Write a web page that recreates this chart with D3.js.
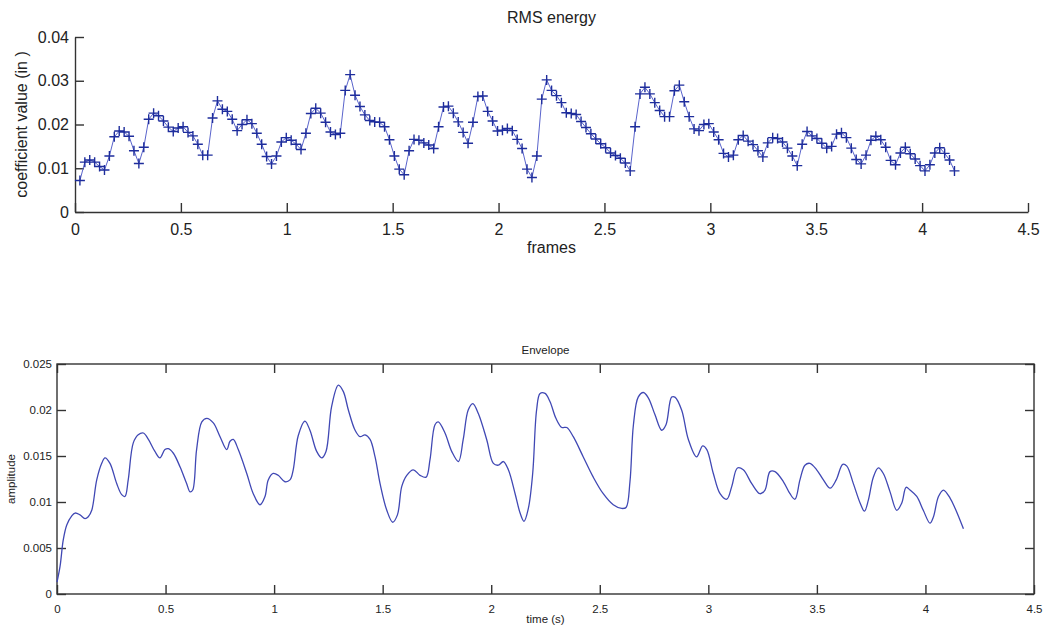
<!DOCTYPE html>
<html lang="en">
<head>
    <meta charset="UTF-8">
    <style>
        body { margin: 0; background: #fff; }
        text { font-family: "Liberation Sans", Arial, sans-serif; fill: #222; }
    </style>
</head>
<body>
    <script src="https://d3js.org/d3.v7.min.js"></script>
    <div id="here"></div>

    <script>
        // RMS energy, one value per frame (frame hop in seconds)
        const rmsHop = 0.0232;
        const rmsValues = [
            .0072,.0114,.0119,.0114,.0104,.0096,.0128,.0172,.0185,.0183,
            .0173,.0140,.0111,.0148,.0212,.0226,.0220,.0208,.0194,.0184,
            .0192,.0195,.0182,.0174,.0155,.0130,.0130,.0215,.0254,.0235,
            .0230,.0212,.0186,.0200,.0211,.0202,.0180,.0155,.0127,.0110,
            .0128,.0160,.0170,.0164,.0155,.0143,.0180,.0225,.0237,.0226,
            .0205,.0183,.0177,.0180,.0278,.0314,.0267,.0241,.0222,.0209,
            .0206,.0205,.0195,.0165,.0128,.0098,.0085,.0140,.0166,.0164,
            .0158,.0153,.0145,.0195,.0240,.0242,.0226,.0206,.0182,.0157,
            .0205,.0264,.0265,.0230,.0208,.0185,.0187,.0191,.0186,.0166,
            .0145,.0098,.0079,.0128,.0258,.0302,.0278,.0266,.0250,.0227,
            .0225,.0223,.0207,.0193,.0179,.0167,.0156,.0147,.0135,.0129,
            .0123,.0112,.0094,.0195,.0270,.0285,.0270,.0250,.0232,.0218,
            .0218,.0277,.0290,.0252,.0218,.0190,.0186,.0200,.0202,.0183,
            .0165,.0134,.0126,.0130,.0165,.0175,.0162,.0154,.0140,.0126,
            .0158,.0170,.0168,.0160,.0146,.0128,.0106,.0155,.0184,.0174,
            .0168,.0157,.0146,.0150,.0178,.0181,.0170,.0146,.0120,.0110,
            .0130,.0164,.0173,.0165,.0148,.0118,.0108,.0135,.0148,.0133,
            .0121,.0106,.0094,.0108,.0135,.0147,.0134,.0119,.0094
        ];

        // envelope
        const envTimes = [
            0,0.014,0.029,0.045,0.068,0.083,0.106,0.129,0.144,0.16,
            0.183,0.206,0.221,0.244,0.275,0.298,0.313,0.328,0.351,0.374,
            0.398,0.421,0.451,0.474,0.497,0.513,0.536,0.567,0.597,0.613,
            0.625,0.643,0.667,0.690,0.720,0.751,0.782,0.797,0.812,0.835,
            0.874,0.904,0.935,0.958,0.973,0.996,1.019,1.050,1.073,1.088,
            1.111,1.142,1.165,1.196,1.219,1.239,1.265,1.296,1.319,1.342,
            1.373,1.396,1.419,1.442,1.465,1.488,1.519,1.546,1.568,1.588,
            1.611,1.641,1.672,1.700,1.718,1.741,1.756,1.787,1.818,1.849,
            1.871,1.894,1.915,1.941,1.979,2.010,2.033,2.056,2.079,2.110,
            2.133,2.151,2.171,2.191,2.209,2.225,2.248,2.271,2.298,2.325,
            2.348,2.378,2.424,2.470,2.516,2.562,2.601,2.621,2.639,2.655,
            2.677,2.701,2.724,2.754,2.785,2.805,2.831,2.846,2.877,2.908,
            2.946,2.974,2.993,3.023,3.054,3.085,3.108,3.134,3.161,3.200,
            3.238,3.261,3.284,3.307,3.346,3.376,3.399,3.422,3.445,3.468,
            3.499,3.530,3.561,3.589,3.619,3.638,3.668,3.699,3.719,3.737,
            3.760,3.783,3.806,3.837,3.868,3.891,3.911,3.929,3.960,3.990,
            4.021,4.037,4.060,4.083,4.114,4.137,4.175
        ];
        const envValues = [
            .0013,.0030,.0059,.0075,.0085,.0088,.0086,.0082,.0084,.0091,
            .0124,.0142,.0148,.0142,.0120,.0108,.0106,.0124,.0164,.0173,
            .0175,.0168,.0155,.0148,.0157,.0158,.0153,.0138,.0120,.0111,
            .0113,.0157,.0187,.0191,.0186,.0171,.0157,.0166,.0168,.0157,
            .0131,.0109,.0097,.0106,.0124,.0131,.0129,.0122,.0124,.0135,
            .0172,.0188,.0178,.0155,.0148,.0155,.0204,.0227,.0220,.0200,
            .0178,.0171,.0173,.0168,.0149,.0120,.0091,.0078,.0086,.0117,
            .0129,.0135,.0129,.0127,.0146,.0184,.0187,.0175,.0155,.0144,
            .0168,.0200,.0207,.0196,.0168,.0142,.0140,.0144,.0135,.0109,
            .0088,.0079,.0093,.0131,.0200,.0218,.0218,.0209,.0191,.0181,
            .0181,.0171,.0149,.0127,.0109,.0097,.0093,.0094,.0122,.0184,
            .0214,.0219,.0213,.0195,.0178,.0184,.0214,.0214,.0200,.0168,
            .0149,.0161,.0157,.0131,.0109,.0103,.0117,.0137,.0135,.0120,
            .0109,.0113,.0133,.0133,.0122,.0109,.0103,.0124,.0140,.0142,
            .0135,.0124,.0115,.0124,.0141,.0139,.0120,.0099,.0090,.0102,
            .0127,.0137,.0131,.0111,.0091,.0099,.0116,.0113,.0106,.0091,
            .0077,.0084,.0106,.0113,.0104,.0093,.0071
        ];

        const xTicks = [0, 0.5, 1, 1.5, 2, 2.5, 3, 3.5, 4, 4.5];
        const rmsYTicks = [0, 0.01, 0.02, 0.03, 0.04];
        const envYTicks = [0, 0.005, 0.01, 0.015, 0.02, 0.025];

        const W = 1048, H = 629;
        const svg = d3.select("#here").append("svg")
            .attr("width", W).attr("height", H);

        const axisColor = "#333";
        const fmt = d => String(d);

        // ---------- top: RMS energy ----------
        {
            const left = 75, right = 1028, top = 37, bottom = 212;
            const x = d3.scaleLinear().domain([0, 4.5]).range([left, right]);
            const y = d3.scaleLinear().domain([0, 0.04]).range([bottom, top]);

            const g = svg.append("g");

            g.append("g")
                .attr("transform", `translate(0,${bottom})`)
                .call(d3.axisBottom(x).tickValues(xTicks).tickFormat(fmt)
                    .tickSizeInner(-9).tickSizeOuter(0).tickPadding(12))
                .call(a => {
                    a.select(".domain").attr("stroke", axisColor).attr("stroke-width", 1.4);
                    a.selectAll(".tick line").attr("stroke", axisColor).attr("stroke-width", 1.4);
                    a.selectAll("text").attr("font-size", 16).attr("fill", "#222")
                        .attr("font-family", "Liberation Sans, Arial, sans-serif");
                });

            g.append("g")
                .attr("transform", `translate(${left},0)`)
                .call(d3.axisLeft(y).tickValues(rmsYTicks).tickFormat(fmt)
                    .tickSizeInner(-9).tickSizeOuter(0).tickPadding(6))
                .call(a => {
                    a.select(".domain").attr("stroke", axisColor).attr("stroke-width", 1.4);
                    a.selectAll(".tick line").attr("stroke", axisColor).attr("stroke-width", 1.4);
                    a.selectAll("text").attr("font-size", 16).attr("fill", "#222")
                        .attr("font-family", "Liberation Sans, Arial, sans-serif");
                });

            const pts = rmsValues.map((v, i) => [(i + 1) * rmsHop, v]);

            g.append("path")
                .datum(pts)
                .attr("fill", "none")
                .attr("stroke", "#5a64cc")
                .attr("stroke-width", 1)
                .attr("d", d3.line().x(d => x(d[0])).y(d => y(d[1])));

            g.append("path")
                .attr("fill", "none")
                .attr("stroke", "#1e2d9c")
                .attr("stroke-width", 1.4)
                .attr("d", pts.map(d => {
                    const px = x(d[0]), py = y(d[1]);
                    return `M${px - 5},${py}H${px + 5}M${px},${py - 5}V${py + 5}`;
                }).join(""));

            g.append("text")
                .attr("x", (left + right) / 2).attr("y", 23)
                .attr("text-anchor", "middle").attr("font-size", 16)
                .text("RMS energy");

            g.append("text")
                .attr("x", (left + right) / 2).attr("y", 253)
                .attr("text-anchor", "middle").attr("font-size", 16)
                .text("frames");

            g.append("text")
                .attr("transform", `translate(27,${(top + bottom) / 2}) rotate(-90)`)
                .attr("text-anchor", "middle").attr("font-size", 16)
                .text("coefficient value (in )");
        }

        // ---------- bottom: Envelope ----------
        {
            const left = 57, right = 1034, top = 364, bottom = 594;
            const x = d3.scaleLinear().domain([0, 4.5]).range([left, right]);
            const y = d3.scaleLinear().domain([0, 0.025]).range([bottom, top]);

            const g = svg.append("g");

            const style = a => {
                a.select(".domain").remove();
                a.selectAll(".tick line").attr("stroke", axisColor).attr("stroke-width", 1.4);
                a.selectAll("text").attr("font-size", 11.5).attr("fill", "#222")
                    .attr("font-family", "Liberation Sans, Arial, sans-serif");
            };

            g.append("g")
                .attr("transform", `translate(0,${bottom})`)
                .call(d3.axisBottom(x).tickValues(xTicks).tickFormat(fmt)
                    .tickSizeInner(-9).tickSizeOuter(0).tickPadding(11))
                .call(style);
            g.append("g")
                .attr("transform", `translate(0,${top})`)
                .call(d3.axisTop(x).tickValues(xTicks).tickFormat("")
                    .tickSizeInner(-9).tickSizeOuter(0))
                .call(style);
            g.append("g")
                .attr("transform", `translate(${left},0)`)
                .call(d3.axisLeft(y).tickValues(envYTicks).tickFormat(fmt)
                    .tickSizeInner(-9).tickSizeOuter(0).tickPadding(5))
                .call(style);
            g.append("g")
                .attr("transform", `translate(${right},0)`)
                .call(d3.axisRight(y).tickValues(envYTicks).tickFormat("")
                    .tickSizeInner(-9).tickSizeOuter(0))
                .call(style);

            g.append("rect")
                .attr("x", left).attr("y", top)
                .attr("width", right - left).attr("height", bottom - top)
                .attr("fill", "none").attr("stroke", axisColor).attr("stroke-width", 1.4);

            const pts = envTimes.map((t, i) => [t, envValues[i]]);
            g.append("path")
                .datum(pts)
                .attr("fill", "none")
                .attr("stroke", "#4048b4")
                .attr("stroke-width", 1.3)
                .attr("d", d3.line().curve(d3.curveCatmullRom)
                    .x(d => x(d[0])).y(d => y(d[1])));

            g.append("text")
                .attr("x", (left + right) / 2).attr("y", 354)
                .attr("text-anchor", "middle").attr("font-size", 11.5)
                .text("Envelope");

            g.append("text")
                .attr("x", (left + right) / 2).attr("y", 623)
                .attr("text-anchor", "middle").attr("font-size", 11.5)
                .text("time (s)");

            g.append("text")
                .attr("transform", `translate(15,${(top + bottom) / 2}) rotate(-90)`)
                .attr("text-anchor", "middle").attr("font-size", 11.5)
                .text("amplitude");
        }
    </script>
</body>
</html>
